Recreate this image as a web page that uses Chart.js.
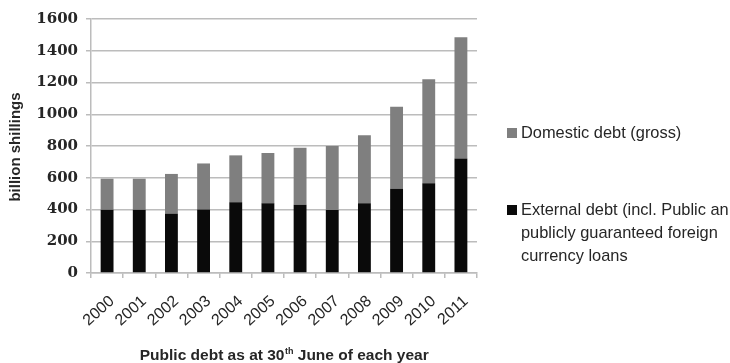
<!DOCTYPE html>
<html>
<head>
<meta charset="utf-8">
<script src="https://cdn.jsdelivr.net/npm/chart.js@4"></script>
<style>
  html, body { margin: 0; padding: 0; background: #fff; }
  #wrap { width: 730px; height: 363px; position: relative; }
</style>
</head>
<body>
<div id="wrap"><canvas id="debtChart" width="730" height="363"></canvas></div>
<script>
  // data (billion shillings)
  const years = ["2000", "2001", "2002", "2003", "2004", "2005", "2006", "2007", "2008", "2009", "2010", "2011"];
  const externalDebt = [398, 398, 374, 400, 445, 439, 430, 397, 439, 531, 565, 722];
  const domesticDebt = [196, 196, 250, 290, 296, 317, 359, 403, 428, 517, 655, 763];
  const yTicks = [0, 200, 400, 600, 800, 1000, 1200, 1400, 1600];

  const domesticLabel = ["Domestic debt (gross)"];
  const externalLabel = ["External debt (incl. Public an", "publicly guaranteed foreign", "currency loans"];
  const yTitle = "billion shillings";

  const textColor = "#262626";
  const gridColor = "#bcbcbc";

  // axis titles + legend drawn by hand (superscript and wrapped legend lines)
  const extrasPlugin = {
    id: "extras",
    afterDraw(chart) {
      const ctx = chart.ctx;
      ctx.save();
      ctx.fillStyle = textColor;

      // y title
      ctx.font = "bold 15px 'Liberation Sans'";
      ctx.translate(16, 147);
      ctx.rotate(-Math.PI / 2);
      ctx.textAlign = "center";
      ctx.textBaseline = "middle";
      ctx.fillText(yTitle, 0, 0);
      ctx.setTransform(1, 0, 0, 1, 0, 0);

      // x title with superscript "th"
      const part1 = "Public debt as at 30";
      const sup = "th";
      const part2 = " June of each year";
      const big = "bold 15.5px 'Liberation Sans'";
      const small = "bold 9px 'Liberation Sans'";
      ctx.font = big;
      const w1 = ctx.measureText(part1).width;
      const w3 = ctx.measureText(part2).width;
      ctx.font = small;
      const w2 = ctx.measureText(sup).width;
      let x = 284 - (w1 + w2 + w3) / 2;
      const y = 360;
      ctx.textAlign = "left";
      ctx.textBaseline = "alphabetic";
      ctx.font = big;
      ctx.fillText(part1, x, y);
      x += w1;
      ctx.font = small;
      ctx.fillText(sup, x + 0.5, y - 6);
      x += w2 + 0.5;
      ctx.font = big;
      ctx.fillText(part2, x, y);

      // legend, top item is the upper stack
      const items = [
        { lines: domesticLabel, color: chart.data.datasets[1].backgroundColor, top: 133 },
        { lines: externalLabel, color: chart.data.datasets[0].backgroundColor, top: 210 }
      ];
      ctx.font = "16.4px 'Liberation Sans'";
      ctx.textBaseline = "middle";
      items.forEach(it => {
        ctx.fillStyle = it.color;
        ctx.fillRect(507, it.top - 5, 10, 10);
        ctx.fillStyle = textColor;
        it.lines.forEach((line, i) => {
          ctx.fillText(line, 521, it.top + i * 23);
        });
      });
      ctx.restore();
    }
  };

  const chart = document.getElementById("debtChart").getContext("2d");

  const debtChart = new Chart(chart, {
    type: "bar",
    data: {
      labels: years,
      datasets: [
        {
          label: externalLabel.join(" "),
          data: externalDebt,
          backgroundColor: "#0a0a0a",
          borderWidth: 0,
          barPercentage: 0.4,
          categoryPercentage: 1.0,
        },
        {
          label: domesticLabel.join(" "),
          data: domesticDebt,
          backgroundColor: "#7f7f7f",
          borderWidth: 0,
          barPercentage: 0.4,
          categoryPercentage: 1.0,
        },
      ],
    },
    options: {
      responsive: false,
      animation: false,
      layout: { padding: { top: 19, right: 253, left: 0, bottom: 0 } },
      plugins: {
        legend: { display: false },
        tooltip: { enabled: false },
      },
      scales: {
        x: {
          stacked: true,
          afterFit: scale => { scale.height = 90; },
          grid: {
            offset: true,
            drawOnChartArea: false,
            tickLength: 5,
            color: gridColor,
            lineWidth: 1.5,
          },
          border: { color: gridColor, width: 1.5 },
          ticks: {
            color: textColor,
            autoSkip: false,
            minRotation: 42,
            maxRotation: 42,
            padding: 14,
            labelOffset: 5,
            font: { family: "'Liberation Sans'", size: 16 },
          },
        },
        y: {
          stacked: true,
          min: 0,
          max: 1600,
          afterFit: scale => { scale.width = 91; },
          afterBuildTicks: scale => { scale.ticks = yTicks.map(v => ({ value: v })); },
          grid: {
            color: gridColor,
            lineWidth: 1.5,
            tickLength: 5,
          },
          border: { color: gridColor, width: 1.5 },
          ticks: {
            color: textColor,
            padding: 8,
            callback: v => String(v),
            font: { family: "'DejaVu Serif'", size: 15, weight: "bold" },
          },
        },
      },
    },
    plugins: [extrasPlugin],
  });
</script>
</body>
</html>
